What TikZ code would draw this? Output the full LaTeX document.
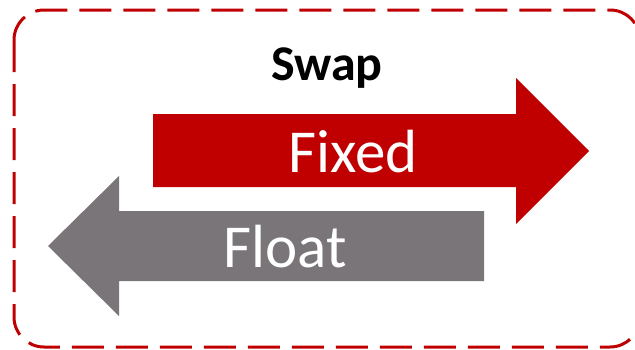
\documentclass[tikz,border=0pt]{standalone}
\usepackage{fontspec}
\setmainfont{Carlito}
\definecolor{swapred}{HTML}{C00000}
\definecolor{swapgray}{HTML}{797578}
\begin{document}
\begin{tikzpicture}[x=1pt,y=-1pt,
  frame/.style={draw=swapred,line width=3pt,dash pattern=on 32pt off 12pt,rounded corners=30pt},
  arrowshape/.style={draw=none},
  label/.style={text=white,font=\fontsize{61}{61}\selectfont,anchor=base,inner sep=0pt}]
\useasboundingbox (0,0) rectangle (635,349);
\draw[frame] (14,10) rectangle (640,347);
\fill[swapred,arrowshape] (153,114) -- (516,114) -- (516,78) -- (589,151) -- (516,224) -- (516,187) -- (153,187) -- cycle;
\fill[swapgray,arrowshape] (484,211) -- (119,211) -- (119,176) -- (48,246) -- (119,316) -- (119,281) -- (484,281) -- cycle;
\node[anchor=base,inner sep=0pt,font=\bfseries\fontsize{50}{50}\selectfont] (title) at (327,80) {Swap};
\node[label] (fixed) at (353,172) {Fixed};
\node[label] (float) at (285,267) {Float};
\end{tikzpicture}
\end{document}
